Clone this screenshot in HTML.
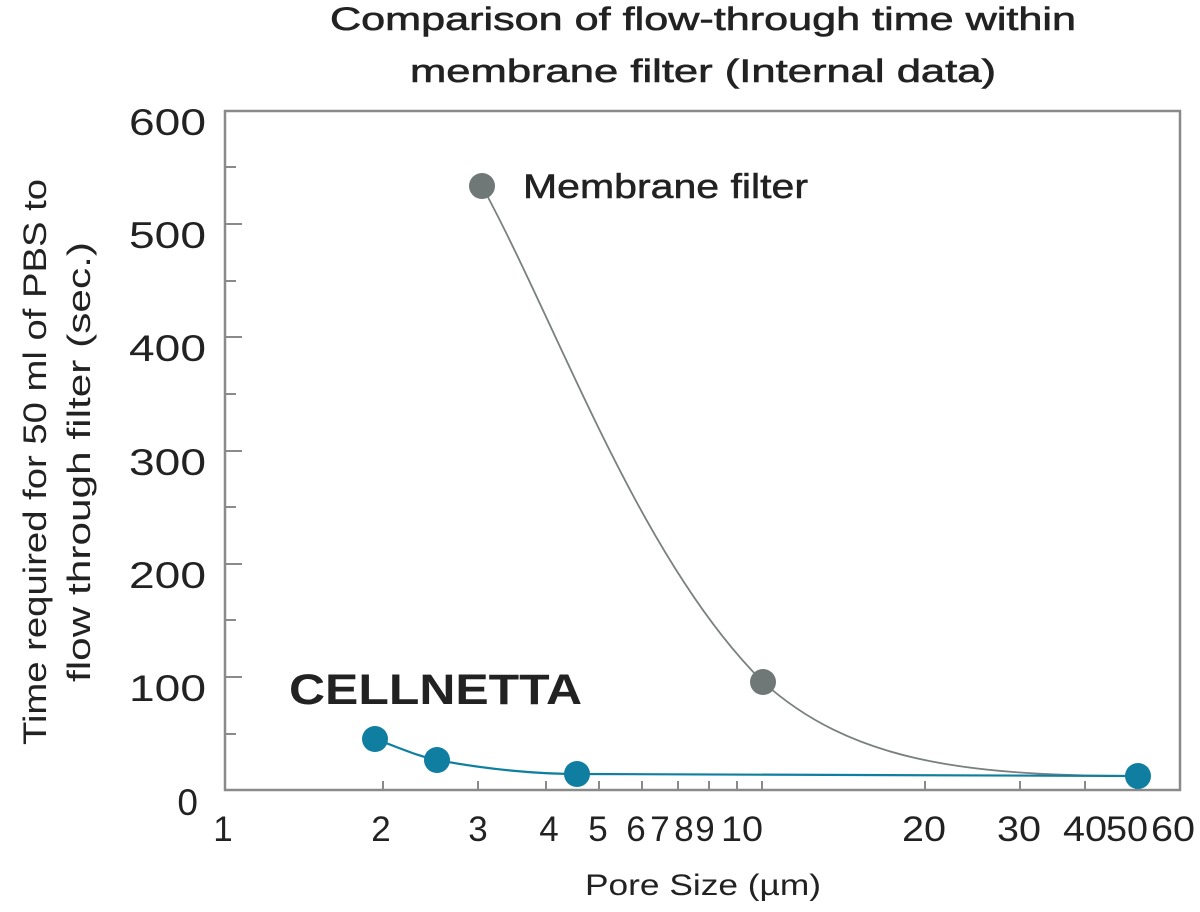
<!DOCTYPE html>
<html><head><meta charset="utf-8"><style>
html,body{margin:0;padding:0;background:#fff;}
svg{display:block;}
text{font-family:"Liberation Sans",sans-serif;fill:#222;}
</style></head><body>
<svg width="1200" height="912" viewBox="0 0 1200 912" xmlns="http://www.w3.org/2000/svg">
<rect width="1200" height="912" fill="#fff"/>
<text x="703" y="30" font-size="32" text-anchor="middle" textLength="746" lengthAdjust="spacingAndGlyphs" stroke="#222" stroke-width="0.6">Comparison of flow-through time within</text>
<text x="703" y="82" font-size="32" text-anchor="middle" textLength="586" lengthAdjust="spacingAndGlyphs" stroke="#222" stroke-width="0.6">membrane filter (Internal data)</text>

<text transform="translate(46,462) rotate(-90)" font-size="32" text-anchor="middle" textLength="566" lengthAdjust="spacingAndGlyphs">Time required for 50 ml of PBS to</text>
<text transform="translate(90,462) rotate(-90)" font-size="32" text-anchor="middle" textLength="440" lengthAdjust="spacingAndGlyphs">flow through filter (sec.)</text>

<rect x="225" y="111" width="955" height="679" fill="none" stroke="#8a8a8a" stroke-width="2.5"/>

<g stroke="#8a8a8a" stroke-width="2">
<line x1="225" y1="224" x2="242" y2="224"/><line x1="225" y1="337" x2="242" y2="337"/>
<line x1="225" y1="451" x2="242" y2="451"/><line x1="225" y1="564" x2="242" y2="564"/>
<line x1="225" y1="677" x2="242" y2="677"/>
<line x1="225" y1="167" x2="236" y2="167"/><line x1="225" y1="281" x2="236" y2="281"/>
<line x1="225" y1="394" x2="236" y2="394"/><line x1="225" y1="507" x2="236" y2="507"/>
<line x1="225" y1="620" x2="236" y2="620"/><line x1="225" y1="734" x2="236" y2="734"/>
</g>
<g font-size="37" text-anchor="end">
<text x="206" y="135" textLength="77" lengthAdjust="spacingAndGlyphs">600</text>
<text x="206" y="248" textLength="77" lengthAdjust="spacingAndGlyphs">500</text>
<text x="206" y="361" textLength="77" lengthAdjust="spacingAndGlyphs">400</text>
<text x="206" y="475" textLength="77" lengthAdjust="spacingAndGlyphs">300</text>
<text x="206" y="588" textLength="77" lengthAdjust="spacingAndGlyphs">200</text>
<text x="206" y="701" textLength="77" lengthAdjust="spacingAndGlyphs">100</text>
<text x="198" y="815">0</text>
</g>

<g stroke="#8a8a8a" stroke-width="2">
<line x1="383" y1="790" x2="383" y2="781"/><line x1="478" y1="790" x2="478" y2="781"/>
<line x1="546" y1="790" x2="546" y2="781"/><line x1="599" y1="790" x2="599" y2="781"/>
<line x1="642" y1="790" x2="642" y2="781"/><line x1="678" y1="790" x2="678" y2="781"/>
<line x1="709" y1="790" x2="709" y2="781"/><line x1="737" y1="790" x2="737" y2="781"/>
<line x1="762" y1="790" x2="762" y2="781"/><line x1="925" y1="790" x2="925" y2="781"/>
<line x1="1020" y1="790" x2="1020" y2="781"/><line x1="1085" y1="790" x2="1085" y2="781"/>
<line x1="1136" y1="790" x2="1136" y2="781"/>
</g>
<g font-size="35" text-anchor="middle">
<text x="223" y="841">1</text><text x="381" y="841">2</text><text x="478" y="841">3</text>
<text x="549" y="841">4</text><text x="598" y="841">5</text><text x="636" y="841">6</text>
<text x="660" y="841">7</text><text x="684" y="841">8</text><text x="705" y="841">9</text>
<text x="742" y="841" textLength="42" lengthAdjust="spacingAndGlyphs">10</text>
<text x="924" y="841" textLength="44" lengthAdjust="spacingAndGlyphs">20</text>
<text x="1019" y="841" textLength="44" lengthAdjust="spacingAndGlyphs">30</text>
<text x="1085" y="841" textLength="44" lengthAdjust="spacingAndGlyphs">40</text>
<text x="1127" y="841" textLength="42" lengthAdjust="spacingAndGlyphs">50</text>
<text x="1173" y="841" textLength="44" lengthAdjust="spacingAndGlyphs">60</text>
</g>
<text x="703" y="895" font-size="30" text-anchor="middle" textLength="236" lengthAdjust="spacingAndGlyphs">Pore Size (µm)</text>

<path d="M482,186 C560,330 640,560 763,682 C850,760 960,776 1138,776" fill="none" stroke="#7a7f7f" stroke-width="1.8"/>
<circle cx="482" cy="186" r="13" fill="#6f7777"/>
<circle cx="763" cy="682" r="13" fill="#6f7777"/>
<text x="523" y="198" font-size="34" textLength="285" lengthAdjust="spacingAndGlyphs" stroke="#222" stroke-width="0.5">Membrane filter</text>

<path d="M375,739 C400,748 420,757 437,760 C490,770 540,774 577,774 L1138,776" fill="none" stroke="#0f7fa1" stroke-width="2.2"/>
<circle cx="375" cy="739" r="13" fill="#0f7ea0"/>
<circle cx="437" cy="760" r="13" fill="#0f7ea0"/>
<circle cx="577" cy="774" r="13" fill="#0f7ea0"/>
<circle cx="1138" cy="776" r="13" fill="#0f7ea0"/>
<text x="289" y="704" font-size="43" font-weight="bold" textLength="293" lengthAdjust="spacingAndGlyphs">CELLNETTA</text>
</svg>
</body></html>
